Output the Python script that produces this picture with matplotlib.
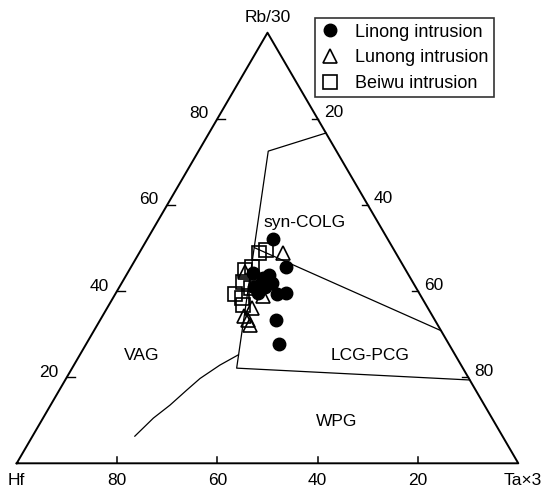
import numpy as np
import matplotlib.pyplot as plt

plt.rcParams['font.family'] = ['Liberation Sans', 'DejaVu Sans']

# sample data, percent of Rb/30 and Ta*3 (Hf is the rest)
linong_rb = [52.1, 45.7, 43.7, 43.0, 44.3, 41.0, 41.0, 41.8, 39.3, 39.6, 39.5, 33.3, 27.7]
linong_ta = [25.0, 30.9, 28.5, 27.7, 25.0, 26.8, 29.0, 29.9, 32.2, 33.9, 28.3, 35.1, 38.5]
lunong_rb = [48.8, 44.5, 41.9, 38.9, 36.0, 34.1, 32.1, 33.3]
lunong_ta = [28.7, 23.3, 27.3, 29.7, 28.9, 28.2, 30.5, 29.5]
beiwu_rb = [49.5, 48.8, 44.9, 45.7, 42.2, 39.3, 38.3, 36.8, 40.7]
beiwu_ta = [24.9, 23.9, 23.1, 24.0, 24.1, 23.9, 25.7, 26.7, 26.4]

# field boundaries (Rb/30 %, Ta*3 %)
outer_rb = [76.7, 72.5, 22.1, 19.35]
outer_ta = [23.3, 13.9, 32.8, 80.65]
split_rb = [50.1, 30.8]
split_ta = [22.3, 69.2]
vag_rb = [25.2, 22.8, 19.7, 17.0, 13.5, 10.5, 6.3]
vag_ta = [31.6, 29.1, 26.7, 25.4, 23.8, 22.0, 20.4]

tick_vals = [20, 40, 60, 80]
FS = 12.5


def tern(rb, ta):
    rb = np.asarray(rb) / 100.0
    ta = np.asarray(ta) / 100.0
    return ta + rb / 2.0, rb


W, H = 542, 490
fig = plt.figure(figsize=(W / 100, H / 100), dpi=100)
ax = fig.add_axes([16.7 / W, (H - 463.3) / H, 501.6 / W, 430.6 / H])
ax.set_xlim(0, 1)
ax.set_ylim(0, 1)
ax.axis('off')

# frame
ax.plot([0, 1, 0.5, 0], [0, 0, 1, 0], color='black', lw=1.4, clip_on=False)

# ticks & labels
px = 1 / 501.6
py = 1 / 430.6
for v in tick_vals:
    # bottom (Hf)
    x = 1 - v / 100
    ax.plot([x, x], [0, 6 * py], color='black', lw=1.1)
    ax.text(x, -17 * py, str(v), ha='center', va='center', fontsize=FS)
    # left (Rb/30)
    x, y = tern(v, 0)
    ax.plot([x, x + 8 * px], [y, y], color='black', lw=1.0)
    ax.text(x - 18 * px, y + 5 * py, str(v), ha='center', va='center', fontsize=FS)
    # right (Ta*3)
    x, y = tern(100 - v, v)
    ax.plot([x - 6 * px, x], [y, y], color='black', lw=1.0)
    ax.text(x + 6 * px, y + 6 * py, str(v), ha='left', va='center', fontsize=FS)

ax.text(0.5, 1 + 15 * py, 'Rb/30', ha='center', va='center', fontsize=FS)
ax.text(0, -17 * py, 'Hf', ha='center', va='center', fontsize=FS)
ax.text(1 + 4 * px, -17 * py, 'Ta×3', ha='center', va='center', fontsize=FS)

# fields
for rb, ta in [(outer_rb, outer_ta), (split_rb, split_ta), (vag_rb, vag_ta)]:
    x, y = tern(rb, ta)
    ax.plot(x, y, color='black', lw=0.9)

ax.text(288.3 * px, 1 - (222 - 32.7) * py, 'syn-COLG', ha='center', va='center', fontsize=FS)
ax.text(125.3 * px, 1 - (356 - 32.7) * py, 'VAG', ha='center', va='center', fontsize=FS)
ax.text(353.3 * px, 1 - (356 - 32.7) * py, 'LCG-PCG', ha='center', va='center', fontsize=FS)
ax.text(320.3 * px, 1 - (422 - 32.7) * py, 'WPG', ha='center', va='center', fontsize=FS)

# samples
x, y = tern(linong_rb, linong_ta)
h1, = ax.plot(x, y, 'o', ms=9, color='black', ls='none', label='Linong intrusion')
x, y = tern(lunong_rb, lunong_ta)
h2, = ax.plot(x, y, '^', ms=9.5, mfc='none', mec='black', mew=1.2, ls='none',
              label='Lunong intrusion')
x, y = tern(beiwu_rb, beiwu_ta)
h3, = ax.plot(x, y, 's', ms=9.5, mfc='none', mec='black', mew=1.2, ls='none',
              label='Beiwu intrusion')

leg = fig.legend(handles=[h1, h2, h3], loc='upper left',
                 bbox_to_anchor=(315 / W, 1 - 18.3 / H), fontsize=13,
                 frameon=True, fancybox=False, edgecolor='black',
                 labelspacing=0.48, handletextpad=0.8, borderpad=0.3,
                 handlelength=1.1, borderaxespad=0)
leg.get_frame().set_linewidth(1.2)

fig.savefig('out.png', dpi=100)
